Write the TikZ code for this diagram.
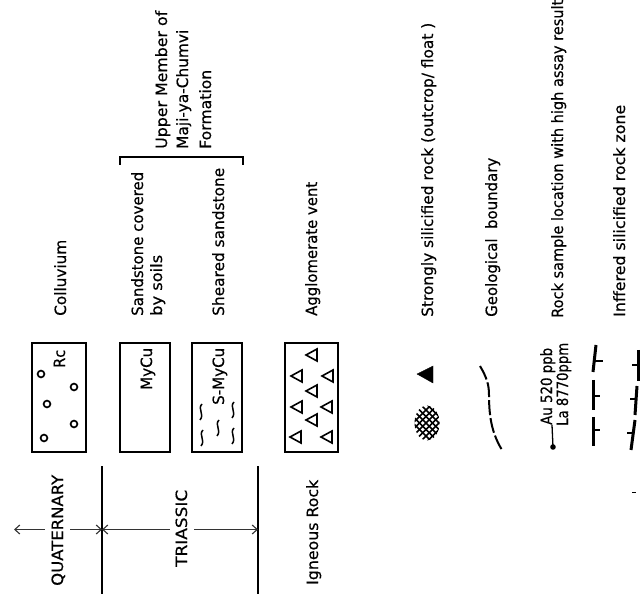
\documentclass[tikz,border=0pt]{standalone}
\usepackage{fontspec}
\usepackage{graphicx}
\setmainfont{DejaVu Sans}[BoldFont={DejaVu Sans},BoldFeatures={FakeBold=0.5}]
\usetikzlibrary{arrows.meta}
\newcommand{\fit}[2]{\resizebox{#1pt}{\height}{#2}}
\tikzset{
  ink/.style={draw=black},
  lab/.style={rotate=90,anchor=base west,inner sep=0pt,text=black,font=\fontsize{15.5}{15.5}\selectfont\bfseries},
  boxed/.style={ink,line width=1.7pt},
  rulel/.style={ink,line width=1.7pt},
  barb/.style={draw=black!80,line width=1.1pt},
  fault/.style={ink,line width=3pt},
  tick/.style={ink,line width=1.5pt},
  pebble/.pic={\draw[ink,line width=1.7pt] (0,0) circle[radius=3.4pt];},
  squig/.pic={\draw[ink,line width=1.5pt] (1,-8) .. controls (-4,-3) and (4,2) .. (-1,8);},
  agtri/.pic={\draw[ink,line width=1.6pt] (-6,0) -- (5,-6) -- (5,6) -- cycle;}
}
\begin{document}
\begin{tikzpicture}[x=1pt,y=-1pt,>={Straight Barb[length=5pt,width=9pt]}]
\useasboundingbox (0,0) rectangle (640,601);

% stratigraphic column
\coordinate (r1a) at (102,466); \coordinate (r1b) at (102,594);
\coordinate (r2a) at (258,466); \coordinate (r2b) at (258,594);
\coordinate (qs) at (14,529.5); \coordinate (r1m) at (102,529.5); \coordinate (r2m) at (258,529.5);
\draw[rulel] (r1a) -- (r1b);
\draw[rulel] (r2a) -- (r2b);
\node[lab] (quat) at (63,586) {\fit{111}{QUATERNARY}};
\node[lab] (tria) at (187,567) {\fit{77}{TRIASSIC}};
\node[lab] (igne) at (318,585) {\fit{105}{Igneous Rock}};
\coordinate (qg1) at (45,529.5); \coordinate (qg2) at (70,529.5);
\coordinate (tg1) at (170,529.5); \coordinate (tg2) at (194,529.5);
\draw[barb,<-] (qs) -- (qg1);
\draw[barb,->] (qg2) -- (r1m);
\draw[barb,<-] (r1m) -- (tg1);
\draw[barb,->] (tg2) -- (r2m);

% legend boxes
\draw[boxed] (32,343) rectangle (86,452);
\draw[boxed] (120,343) rectangle (170,452);
\draw[boxed] (192,343) rectangle (242,452);
\draw[boxed] (285,343) rectangle (338,452);
\node[lab] (rc) at (65,368) {\fit{18}{Rc}};
\node[lab] (mycu) at (152,390) {\fit{42}{MyCu}};
\node[lab] (smycu) at (224,405) {\fit{57}{S-MyCu}};
\foreach \p in {(41,374),(74,387),(47,404),(74,424),(44,438)} \pic at \p {pebble};
\foreach \p in {(201,412),(233,410),(218,428),(202,438),(233,436)} \pic at \p {squig};
\foreach \p in {(297,376),(312,355),(312,391),(297,407),(312,420),(296,437),(328,376),(327,407),(327,437)} \pic at \p {agtri};

% labels of the boxes
\node[lab] (coll) at (66,316) {\fit{76}{Colluvium}};
\node[lab] (sand1) at (143,316) {\fit{144}{Sandstone covered}};
\node[lab] (sand2) at (162,316) {\fit{61}{by soils}};
\node[lab] (shear) at (224,316) {\fit{148}{Sheared sandstone}};
\node[lab] (aggl) at (317,316) {\fit{134}{Agglomerate vent}};
\node[lab] (up1) at (167,149) {\fit{138}{Upper Member of}};
\node[lab] (up2) at (188,149) {\fit{119}{Maji-ya-Chumvi}};
\node[lab] (up3) at (211,149) {\fit{79}{Formation}};
\coordinate (bl) at (120,165); \coordinate (bla) at (120,157);
\coordinate (br) at (243,165); \coordinate (bra) at (243,157);
\draw[ink,line width=1.3pt] (bl) -- (bla) -- (bra) -- (br);

% symbols
\draw[fill=black,draw=black] (417,374) -- (433,366) -- (433,383) -- cycle;
\begin{scope}
  \clip (427,423) ellipse[x radius=12.5pt,y radius=17.5pt];
  \foreach \k in {0,6.5,...,65} {
    \draw[black,line width=1.7pt] (395+\k,405) -- (435+\k,445);
    \draw[black,line width=1.7pt] (395+\k,441) -- (435+\k,401);
  }
\end{scope}
\draw[ink,line width=2pt,dash pattern=on 15pt off 3pt] (480,366) .. controls (487,378) and (489,385) .. (489,395) .. controls (489,420) and (493,435) .. (502,450);

\node[lab] (au) at (552,425) {\fit{77}{Au 520 ppb}};
\node[lab] (la) at (568,426) {\fit{83}{La 8770ppm}};
\fill[black] (553,447) circle[radius=2.8pt] coordinate (dot);
\draw[ink,line width=1.3pt] (dot) -- (au.base west);

\draw[fault] (596,345) -- (593,372);
\draw[fault] (593,380) -- (593,410);
\draw[fault] (593,417) -- (593,446);
\draw[tick] (594,361) -- (603,361);
\draw[tick] (593,396) -- (600,396);
\draw[tick] (593,430) -- (600,430);
\draw[fault] (638,350) -- (638,381);
\draw[fault] (637,386) -- (635,415);
\draw[fault] (635,420) -- (631,450);
\draw[tick] (632,365) -- (638,365);
\draw[tick] (630,399) -- (636,399);
\draw[tick] (627,433) -- (634,433);
\draw[ink,line width=1pt] (632,492) -- (636,492);

% labels of the symbols
\node[lab] (sil) at (433,317) {\fit{294}{Strongly silicified rock (outcrop/ float )}};
\node[lab] (geo) at (497,317) {\fit{159}{Geological\ \ boundary}};
\node[lab] (sample) at (563,318) {\fit{318}{Rock sample location with high assay result}};
\node[lab] (inf) at (625,317) {\fit{212}{Inffered silicified rock zone}};
\end{tikzpicture}
\end{document}
